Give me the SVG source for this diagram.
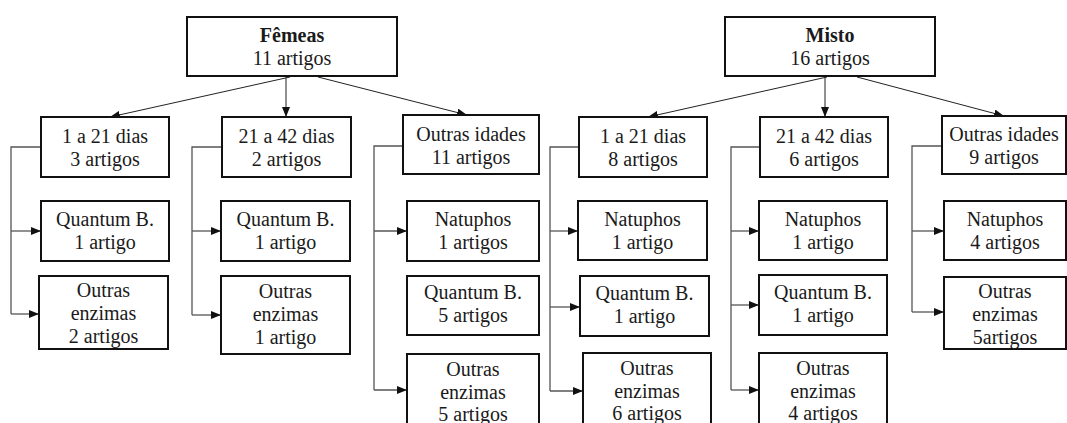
<svg xmlns="http://www.w3.org/2000/svg" width="1067" height="423" viewBox="0 0 1067 423">
<defs>
<marker id="ah" viewBox="0 0 10 8" refX="10" refY="4" markerWidth="10" markerHeight="8" markerUnits="userSpaceOnUse" orient="auto">
<path d="M0,0 L10,4 L0,8 z" fill="#111"/>
</marker>
<style>
.box{fill:#fff;stroke:#111;stroke-width:2}
.t{font-family:'Liberation Serif','Times New Roman','DejaVu Serif',serif;font-size:20px;fill:#1a1a1a;text-anchor:middle}
.b{font-weight:bold}
.c{fill:none;stroke:#222;stroke-width:1}
.s{fill:none;stroke:#555;stroke-width:1.3}
.a{marker-end:url(#ah)}
</style>
</defs>
<rect width="1067" height="423" fill="#fff"/>
<g id="connectors">
<line class="c a" x1="290" y1="77" x2="110" y2="117"/>
<line class="c a" x1="286" y1="77" x2="286" y2="117"/>
<line class="c a" x1="318" y1="77" x2="467" y2="115"/>
<line class="c a" x1="827" y1="77" x2="648" y2="117"/>
<line class="c a" x1="825" y1="77" x2="825" y2="117"/>
<line class="c a" x1="857" y1="77" x2="1004" y2="116"/>
<path class="s" d="M41,147 H11 V314"/>
<line class="s a" x1="11" y1="231" x2="41" y2="231"/>
<line class="s a" x1="11" y1="314" x2="39" y2="314"/>
<path class="s" d="M222,147 H192 V315"/>
<line class="s a" x1="192" y1="231" x2="221" y2="231"/>
<line class="s a" x1="192" y1="315" x2="221" y2="315"/>
<path class="s" d="M403,146 H374 V390"/>
<line class="s a" x1="374" y1="231" x2="407" y2="231"/>
<line class="s a" x1="374" y1="390" x2="407" y2="390"/>
<path class="s" d="M579,147 H550 V391"/>
<line class="s a" x1="550" y1="231" x2="578" y2="231"/>
<line class="s a" x1="550" y1="307" x2="580" y2="307"/>
<line class="s a" x1="550" y1="391" x2="583" y2="391"/>
<path class="s" d="M760,147 H731 V390"/>
<line class="s a" x1="731" y1="231" x2="759" y2="231"/>
<line class="s a" x1="731" y1="305" x2="759" y2="305"/>
<line class="s a" x1="731" y1="390" x2="759" y2="390"/>
<path class="s" d="M942,146 H912 V312"/>
<line class="s a" x1="912" y1="231" x2="944" y2="231"/>
<line class="s a" x1="912" y1="312" x2="944" y2="312"/>
</g>
<g class="t" font-family="Liberation Serif, Times New Roman, serif" font-size="20">
<g id="femeas"><rect class="box" x="187" y="17" width="210" height="59"/><text x="292" y="42" class="b">Fêmeas</text><text x="292" y="65">11 artigos</text></g>
<g id="f1"><rect class="box" x="41" y="117" width="128" height="60"/><text x="105" y="143">1 a 21 dias</text><text x="105" y="166">3 artigos</text></g>
<g id="f2"><rect class="box" x="222" y="117" width="129" height="60"/><text x="286.5" y="143">21 a 42 dias</text><text x="286.5" y="166">2 artigos</text></g>
<g id="f3"><rect class="box" x="403" y="115" width="136" height="59"/><text x="471" y="141">Outras idades</text><text x="471" y="164">11 artigos</text></g>
<g id="f1a"><rect class="box" x="41" y="201" width="128" height="60"/><text x="105" y="226">Quantum B.</text><text x="105" y="249">1 artigo</text></g>
<g id="f1b"><rect class="box" x="39" y="276" width="129" height="73"/><text x="103.5" y="297">Outras</text><text x="103.5" y="320">enzimas</text><text x="103.5" y="343">2 artigos</text></g>
<g id="f2a"><rect class="box" x="221" y="201" width="129" height="60"/><text x="285.5" y="226">Quantum B.</text><text x="285.5" y="249">1 artigo</text></g>
<g id="f2b"><rect class="box" x="221" y="276" width="129" height="78"/><text x="285.5" y="298">Outras</text><text x="285.5" y="321">enzimas</text><text x="285.5" y="344">1 artigo</text></g>
<g id="f3a"><rect class="box" x="407" y="201" width="132" height="60"/><text x="473" y="226">Natuphos</text><text x="473" y="249">1 artigos</text></g>
<g id="f3b"><rect class="box" x="407" y="276" width="132" height="59"/><text x="473" y="299">Quantum B.</text><text x="473" y="322">5 artigos</text></g>
<g id="f3c"><rect class="box" x="407" y="354" width="132" height="80"/><text x="473" y="376">Outras</text><text x="473" y="399">enzimas</text><text x="473" y="421">5 artigos</text></g>
<g id="misto"><rect class="box" x="725" y="17" width="210" height="59"/><text x="830" y="42" class="b">Misto</text><text x="830" y="65">16 artigos</text></g>
<g id="m1"><rect class="box" x="579" y="117" width="128" height="60"/><text x="643" y="143">1 a 21 dias</text><text x="643" y="166">8 artigos</text></g>
<g id="m2"><rect class="box" x="760" y="117" width="128" height="60"/><text x="824" y="143">21 a 42 dias</text><text x="824" y="166">6 artigos</text></g>
<g id="m3"><rect class="box" x="942" y="116" width="124" height="58"/><text x="1004" y="141">Outras idades</text><text x="1004" y="164">9 artigos</text></g>
<g id="m1a"><rect class="box" x="578" y="201" width="129" height="59"/><text x="642.5" y="226">Natuphos</text><text x="642.5" y="249">1 artigo</text></g>
<g id="m1b"><rect class="box" x="580" y="276" width="129" height="60"/><text x="644.5" y="300">Quantum B.</text><text x="644.5" y="323">1 artigo</text></g>
<g id="m1c"><rect class="box" x="583" y="353" width="128" height="80"/><text x="647" y="375">Outras</text><text x="647" y="398">enzimas</text><text x="647" y="420">6 artigos</text></g>
<g id="m2a"><rect class="box" x="759" y="201" width="128" height="59"/><text x="823" y="226">Natuphos</text><text x="823" y="249">1 artigo</text></g>
<g id="m2b"><rect class="box" x="759" y="275" width="128" height="60"/><text x="823" y="299">Quantum B.</text><text x="823" y="322">1 artigo</text></g>
<g id="m2c"><rect class="box" x="759" y="353" width="128" height="80"/><text x="823" y="375">Outras</text><text x="823" y="398">enzimas</text><text x="823" y="420">4 artigos</text></g>
<g id="m3a"><rect class="box" x="944" y="201" width="122" height="59"/><text x="1005" y="226">Natuphos</text><text x="1005" y="249">4 artigos</text></g>
<g id="m3b"><rect class="box" x="944" y="277" width="122" height="72"/><text x="1005" y="298">Outras</text><text x="1005" y="321">enzimas</text><text x="1005" y="344">5artigos</text></g>
</g>
</svg>
